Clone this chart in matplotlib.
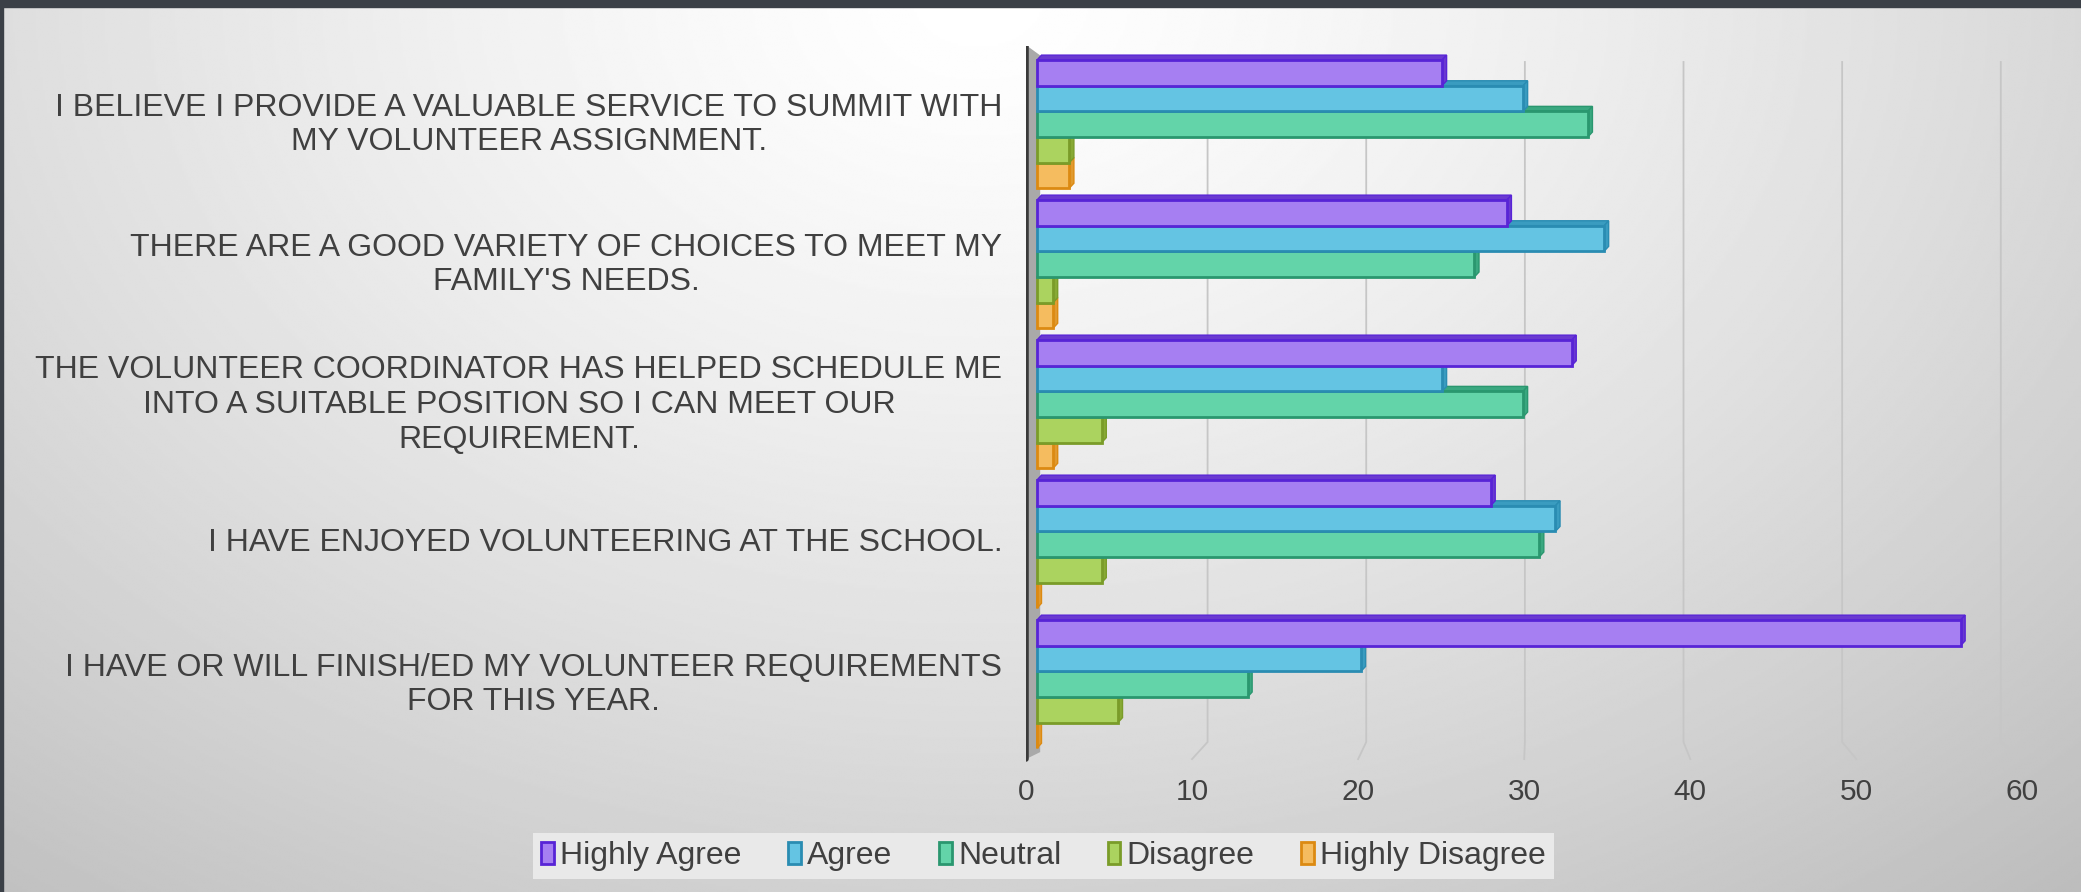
import numpy as np
import matplotlib
matplotlib.use("Agg")
import matplotlib.pyplot as plt
from matplotlib.patches import Rectangle, Polygon, Patch

plt.rcParams['font.family'] = ['Liberation Sans', 'DejaVu Sans']

statements = [
    "I BELIEVE I PROVIDE A VALUABLE SERVICE TO SUMMIT WITH\nMY VOLUNTEER ASSIGNMENT.",
    "THERE ARE A GOOD VARIETY OF CHOICES TO MEET MY\nFAMILY'S NEEDS.",
    "THE VOLUNTEER COORDINATOR HAS HELPED SCHEDULE ME\nINTO A SUITABLE POSITION SO I CAN MEET OUR\nREQUIREMENT.",
    "I HAVE ENJOYED VOLUNTEERING AT THE SCHOOL.",
    "I HAVE OR WILL FINISH/ED MY VOLUNTEER REQUIREMENTS\nFOR THIS YEAR.",
]
series_names = ["Highly Agree", "Agree", "Neutral", "Disagree", "Highly Disagree"]
highly_agree = [25, 29, 33, 28, 57]
agree = [30, 35, 25, 32, 20]
neutral = [34, 27, 30, 31, 13]
disagree = [2, 1, 4, 4, 5]
highly_disagree = [2, 1, 1, 0, 0]
x_ticks = [0, 10, 20, 30, 40, 50, 60]

face_colors = ['#a67ff2', '#64c4e3', '#63d4a9', '#abd35f', '#f5bc5f']
edge_colors = ['#5824d6', '#2a8cb2', '#2a976f', '#7a9c29', '#dc8a12']
side_colors = ['#6a3ad0', '#3a9cc0', '#3aa880', '#88aa35', '#e09a30']
text_color = '#404040'

# simple perspective: the back wall carries the gridlines, the front edge the labels
def front(v):
    return -0.68 + 1.025 * v

def back(v):
    return 0.74 + 0.979 * v

fig = plt.figure(figsize=(20.81, 8.92), dpi=100)

# slide background
bg = fig.add_axes([0, 0, 1, 1], zorder=-10)
yy, xx = np.mgrid[0:1:400j, 0:1:900j]
r = np.sqrt(((xx - 0.47) / 0.75) ** 2 + (yy / 1.25) ** 2)
shade = np.clip(1.0 - 0.24 * r ** 1.3, 0, 1)
bg.imshow(shade, cmap='gray', vmin=0, vmax=1, aspect='auto',
          extent=[0, 1, 1, 0], interpolation='bilinear')
bg.axhspan(0, 0.008, color='#3b4047')
bg.axvspan(0, 0.0015, color='#3b4047')
bg.set_xlim(0, 1)
bg.set_ylim(1, 0)
bg.axis('off')

ax = fig.add_axes([0.4930, 0.1446, 0.4873, 0.8038])
ax.patch.set_visible(False)
ax.set_xlim(-0.68, 61.9)
ax.set_ylim(4.564, -0.557)
for s in ax.spines.values():
    s.set_visible(False)

grid_top, grid_floor, floor_front = -0.443, 4.414, 4.536

# gridlines on the back wall with their feet running to the front edge
for v in x_ticks[1:]:
    ax.plot([back(v), back(v), front(v)], [grid_top, grid_floor, floor_front],
            color='#c6c6c6', lw=1.3, zorder=1, solid_joinstyle='miter')

# side wall at zero
ax.add_patch(Polygon([(front(0), -0.564), (0.2, -0.49), (0.2, floor_front - 0.05),
                      (front(0), floor_front)],
                     closed=True, fc='#a9a9a9', ec='none', zorder=2))
ax.plot([front(0), front(0)], [-0.564, floor_front], color='#3a3a3a', lw=4,
        solid_capstyle='round', zorder=6)

values = [highly_agree, agree, neutral, disagree, highly_disagree]
bar_h = 0.183
dx, dy = 0.28, 0.035
for j in reversed(range(len(values))):
    for i, v in enumerate(values[j]):
        top = i - 0.457 + j * bar_h
        # top face and end face give the bars some depth
        ax.add_patch(Polygon([(0, top), (v, top), (v + dx, top - dy), (dx, top - dy)],
                             closed=True, fc=side_colors[j], ec=edge_colors[j],
                             lw=1, zorder=3 + (5 - j) * 0.1))
        ax.add_patch(Polygon([(v, top), (v + dx, top - dy), (v + dx, top + bar_h - dy),
                              (v, top + bar_h)],
                             closed=True, fc=side_colors[j], ec=edge_colors[j],
                             lw=1, zorder=3 + (5 - j) * 0.1))
        ax.add_patch(Rectangle((0, top), v, bar_h, fc=face_colors[j],
                               ec=edge_colors[j], lw=2, zorder=3.05 + (5 - j) * 0.1))

# category labels sit a touch above the group centres
ax.set_yticks([i - 0.035 for i in range(len(statements))])
ax.set_yticklabels(statements, fontsize=23, color=text_color, linespacing=1.2)
for t in ax.get_yticklabels():
    t.set_multialignment('center')
ax.tick_params(axis='y', length=0, pad=17)

ax.set_xticks([front(v) for v in x_ticks])
ax.set_xticklabels([str(v) for v in x_ticks], fontsize=21.5, color=text_color)
ax.tick_params(axis='x', length=0, pad=11)

handles = [Patch(fc=face_colors[j], ec=edge_colors[j], lw=2) for j in range(5)]
leg = fig.legend(handles, series_names, loc='center', bbox_to_anchor=(0.5015, 0.04),
                 ncol=5, fontsize=23, frameon=True, fancybox=False,
                 facecolor='#e9e9e9', edgecolor='none', framealpha=1,
                 handlelength=0.4, handleheight=0.7, handletextpad=0.2,
                 columnspacing=1.45, borderpad=0.25)
for t in leg.get_texts():
    t.set_color(text_color)

fig.savefig('out.png', dpi=100)
